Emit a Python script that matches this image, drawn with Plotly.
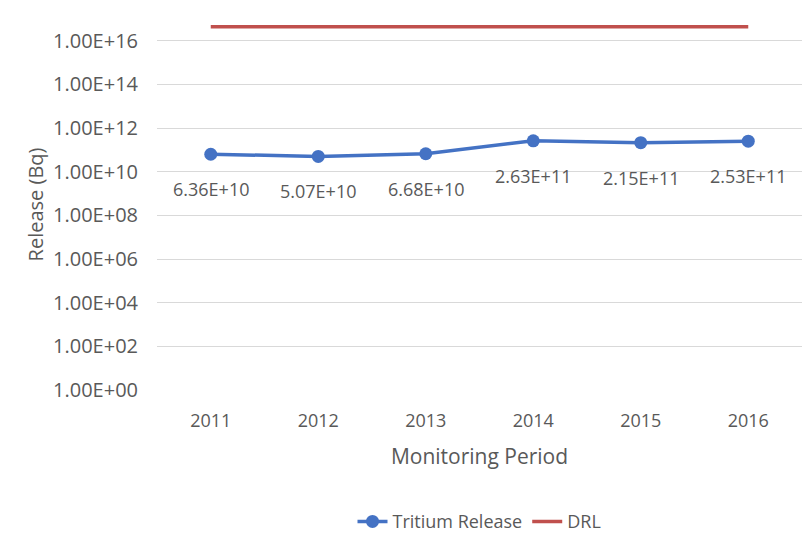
import math
import plotly.graph_objects as go

years = ["2011", "2012", "2013", "2014", "2015", "2016"]
tritium = [6.36e10, 5.07e10, 6.68e10, 2.63e11, 2.15e11, 2.53e11]
tritium_labels = ["6.36E+10", "5.07E+10", "6.68E+10", "2.63E+11", "2.15E+11", "2.53E+11"]
drl = [4.4e16, 4.4e16, 4.4e16, 4.4e16, 4.4e16, 4.4e16]
ytick_vals = [1e0, 1e2, 1e4, 1e6, 1e8, 1e10, 1e12, 1e14, 1e16]
ytick_text = ["1.00E+00", "1.00E+02", "1.00E+04", "1.00E+06", "1.00E+08",
              "1.00E+10", "1.00E+12", "1.00E+14", "1.00E+16"]

grey = "#595959"
font_family = "Open Sans, Liberation Sans, sans-serif"

fig = go.Figure()
fig.add_trace(go.Scatter(
    x=years, y=tritium, name="Tritium Release",
    mode="lines+markers",
    line=dict(color="#4472C4", width=3.5),
    marker=dict(color="#4472C4", size=13),
))
fig.add_trace(go.Scatter(
    x=years, y=drl, name="DRL", mode="lines",
    line=dict(color="#C0504D", width=3.5),
))

# data labels: category index on x, log10 value on the log y axis
for i, (val, lab) in enumerate(zip(tritium, tritium_labels)):
    fig.add_annotation(x=i, y=math.log10(val), xref="x", yref="y",
                       text=lab, showarrow=False, yshift=-35,
                       font=dict(size=18, color=grey, family=font_family))

fig.update_layout(
    width=802, height=541,
    margin=dict(l=157, r=0, t=19, b=151),
    paper_bgcolor="white", plot_bgcolor="white",
    font=dict(family=font_family, color=grey, size=18),
    showlegend=True,
    legend=dict(orientation="h", x=0.5, xanchor="center", y=-0.355, yanchor="middle",
                font=dict(size=18, color=grey, family=font_family),
                traceorder="normal"),
    xaxis=dict(
        type="category", range=[-0.5, 5.5],
        showgrid=False, zeroline=False, showline=False,
        ticks="", tickfont=dict(size=18, color=grey),
        ticklabelstandoff=18,
        title=dict(text="Monitoring Period", font=dict(size=21, color=grey), standoff=18),
    ),
    yaxis=dict(
        type="log", range=[0, 17],
        tickvals=ytick_vals, ticktext=ytick_text,
        showgrid=True, gridcolor="#D9D9D9", gridwidth=1,
        zeroline=False, showline=False, ticks="",
        tickfont=dict(size=20, color=grey),
        ticklabelstandoff=18,
        title=dict(text="Release (Bq)", font=dict(size=20, color=grey), standoff=4),
    ),
)

fig.write_html("out.html")
